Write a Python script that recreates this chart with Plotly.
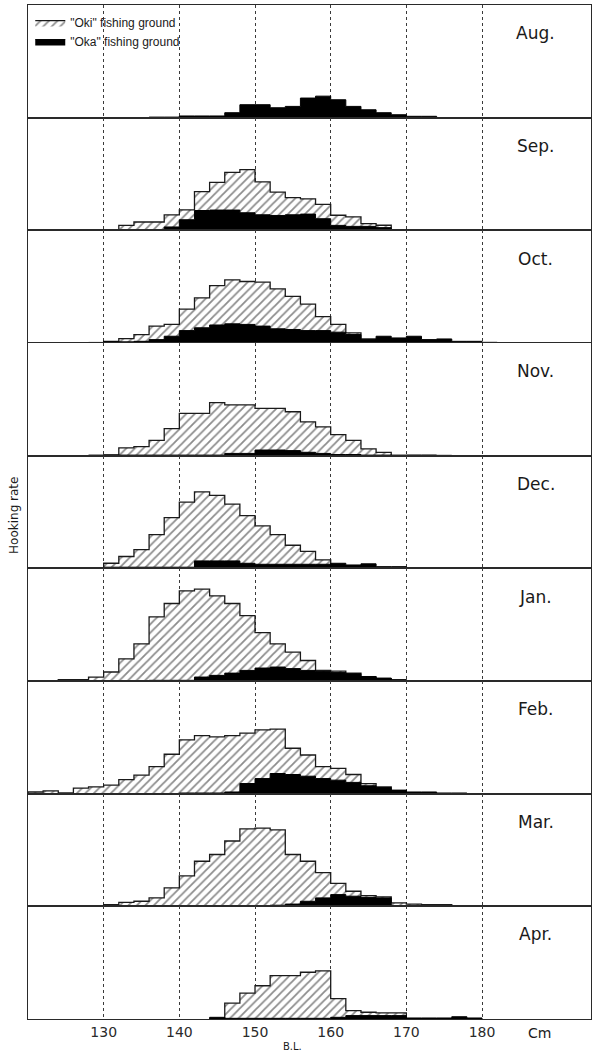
import plotly.graph_objects as go
from plotly.subplots import make_subplots

# Body-length classes (cm): 2 cm bins from 120 to 182
BIN_START = 120
BIN_WIDTH = 2
EDGES = [BIN_START + BIN_WIDTH * i for i in range(32)]

MONTHS = ["Aug.", "Sep.", "Oct.", "Nov.", "Dec.", "Jan.", "Feb.", "Mar.", "Apr."]

# Hooking rate by length class, "Oki" fishing ground
oki_aug = [0, 0, 0, 0, 0, 0, 0, 0, 0, 0, 0, 0, 0, 0, 0, 0, 0, 0, 0, 0, 0, 0, 0, 0, 0, 0, 0, 0, 0, 0, 0]
oki_sep = [0, 0, 0, 0, 0, 0, 4.4, 7.4, 7.4, 13.8, 18.2, 34.4, 42.6, 51.5, 53.8, 43, 34, 29, 28, 23, 13.4, 12, 6, 4.5, 0, 0, 0, 0, 0, 0, 0]
oki_oct = [0, 0, 0, 0, 0, 1.5, 3.9, 7.5, 15, 16.5, 30, 40, 51, 56, 54.6, 54, 48, 41.4, 34.5, 23.4, 16.5, 9, 3.6, 0, 0, 0, 0, 0, 0, 0, 0]
oki_nov = [0, 0, 0, 0, 0, 0.6, 6.9, 8.1, 13.5, 24, 37.5, 37.5, 47, 45, 45, 42, 42, 39, 30, 25.5, 18.6, 13.5, 6, 3, 0, 0, 0, 0, 0, 0, 0]
oki_dec = [0, 0, 0, 0, 0, 4.5, 10.5, 16.6, 30, 45, 58.7, 67.8, 64.8, 57, 46.7, 37.6, 30, 20.5, 15, 7.5, 0, 0, 0, 0, 0, 0, 0, 0, 0, 0, 0]
oki_jan = [0, 0, 1.2, 1.2, 3.5, 8, 19.7, 33, 57, 68.8, 80, 81.5, 75.6, 68.8, 58, 43, 33, 25.6, 18.2, 9.4, 8.8, 7, 3.5, 2, 0.6, 0, 0, 0, 0, 0, 0]
oki_feb = [1.5, 2.4, 0.6, 5, 6, 7.5, 12.5, 16.4, 24, 35, 47.8, 51.6, 50.4, 51.6, 53.7, 56.7, 57.3, 40.3, 34.3, 24, 22.4, 17, 9, 6, 3, 0, 0, 0, 0, 0, 0]
oki_mar = [0, 0, 0, 0, 0, 1.5, 3.6, 4.5, 7.5, 16.4, 27, 40, 46, 58, 68.7, 69.5, 67.8, 46, 40, 30, 20.3, 13.4, 9.5, 8.4, 3, 2, 1.5, 1.5, 0, 0, 0]
oki_apr = [0, 0, 0, 0, 0, 0, 0, 0, 0, 0, 0, 0, 0, 14, 23, 29.5, 38.5, 38.5, 41.5, 42.8, 18, 7.5, 6, 5.4, 5.4, 0, 0, 0, 0, 0, 0]

# Hooking rate by length class, "Oka" fishing ground
oka_aug = [0, 0, 0, 0, 0, 0, 0, 0, 0.5, 0.5, 1.5, 1.5, 1.5, 4.4, 11.5, 11.5, 8.8, 10, 17.4, 19.1, 15.9, 10, 7, 4.4, 2.6, 1.2, 1.2, 0, 0, 0, 0]
oka_sep = [0, 0, 0, 0, 0, 0, 0, 0, 0, 3, 9.4, 17.6, 18, 18, 15.6, 13.8, 13.2, 13.8, 14.4, 10.3, 4.4, 3.5, 3.5, 2.4, 0, 0, 0, 0, 0, 0, 0]
oka_oct = [0, 0, 0, 0, 0.5, 1, 1, 1.5, 3, 6, 11, 13.5, 16, 17, 16.5, 15, 12.6, 12, 11, 11, 9.6, 7.5, 3, 6, 4.5, 6, 3, 3.6, 1.5, 1.5, 0.6]
oka_nov = [0, 0, 0, 0, 0.5, 0.5, 0.5, 0.5, 0.5, 0.5, 0.5, 0.5, 0.5, 2, 2, 5, 5, 4.5, 3, 2, 1, 1, 0.5, 0.5, 0.5, 0.6, 0.6, 0.3, 0, 0, 0]
oka_dec = [0, 0, 0, 0.6, 0.6, 1, 1, 1, 1, 1, 1, 6.6, 6.6, 6.6, 4.5, 3.6, 3.6, 3.6, 3.6, 3.6, 4.5, 3, 4, 1.5, 1.5, 0.6, 0.6, 0, 0, 0, 0]
oka_jan = [0, 0, 0, 0, 0, 0, 0, 0, 0.6, 0.6, 0.6, 3.5, 5, 7, 9.4, 11.5, 12.4, 11, 9.4, 8.5, 7.6, 6.5, 4, 2.6, 1.2, 0, 0, 0, 0, 0, 0]
oka_feb = [0, 0, 0, 0, 0, 0, 0, 0, 0, 0, 0.6, 0.6, 0.6, 1.5, 9, 13.4, 17.9, 17, 15.5, 13.4, 12, 10, 7, 5.4, 3, 1.5, 1.5, 0.6, 0.6, 0, 0]
oka_mar = [0, 0, 0, 0, 0, 0, 0, 0, 0, 0, 0, 0, 0.5, 0.5, 0.5, 0.5, 1, 2, 4.5, 7.5, 10.4, 9, 8, 7.5, 0, 0, 0, 0, 0, 0, 0]
oka_apr = [0, 0, 0, 0, 0, 0, 0, 0, 0, 0, 0, 0, 1.5, 0.6, 0.6, 0.6, 0.6, 0.6, 0.6, 0.6, 1.5, 3, 3, 3, 3, 0.9, 0.9, 0.9, 2, 0.9, 0]

OKI = [oki_aug, oki_sep, oki_oct, oki_nov, oki_dec, oki_jan, oki_feb, oki_mar, oki_apr]
OKA = [oka_aug, oka_sep, oka_oct, oka_nov, oka_dec, oka_jan, oka_feb, oka_mar, oka_apr]

TICKS = [130, 140, 150, 160, 170, 180]
INK = "#1a1a1a"
FRAME = "#2a2a2a"


def step_outline(vals):
    """Histogram outline (for line_shape='hv') closed down to the baseline."""
    nz = [i for i, v in enumerate(vals) if v > 0]
    if not nz:
        return None, None
    a, b = nz[0], nz[-1]
    xs = [EDGES[a]] + EDGES[a:b + 1] + [EDGES[b + 1]]
    ys = [0] + list(vals[a:b + 1]) + [0]
    return xs, ys


n = len(MONTHS)
fig = make_subplots(rows=n, cols=1, shared_xaxes=True, vertical_spacing=0)

oki_in_legend = False
oka_in_legend = False
for r, (month, oki, oka) in enumerate(zip(MONTHS, OKI, OKA), start=1):
    xs, ys = step_outline(oki)
    if xs is not None:
        fig.add_trace(go.Scatter(
            x=xs, y=ys, mode="lines", line_shape="hv",
            line=dict(color=INK, width=1.3),
            fill="tozeroy", fillcolor="white",
            fillpattern=dict(shape="/", fgcolor=INK, bgcolor="white", size=6, solidity=0.3),
            name='"Oki" fishing ground', legendgroup="oki", legendrank=1,
            showlegend=not oki_in_legend, hoverinfo="skip",
        ), row=r, col=1)
        oki_in_legend = True
    xs, ys = step_outline(oka)
    if xs is not None:
        fig.add_trace(go.Scatter(
            x=xs, y=ys, mode="lines", line_shape="hv",
            line=dict(color="black", width=1),
            fill="tozeroy", fillcolor="black",
            name='"Oka" fishing ground', legendgroup="oka", legendrank=2,
            showlegend=not oka_in_legend, hoverinfo="skip",
        ), row=r, col=1)
        oka_in_legend = True

    fig.add_annotation(
        text=month, xref="paper", x=0.902,
        yref=("y" if r == 1 else f"y{r}") + " domain", y=0.75,
        showarrow=False, xanchor="center", yanchor="middle",
        font=dict(family="DejaVu Sans", size=17, color=INK),
    )

fig.update_xaxes(
    range=[120, 194.4], tickvals=TICKS, ticktext=[str(t) for t in TICKS],
    showgrid=True, gridcolor="#3a3a3a", gridwidth=1, griddash="3px,3px",
    showline=True, mirror=True, linecolor=FRAME, linewidth=1.2,
    ticks="", zeroline=False,
    tickfont=dict(family="DejaVu Sans", size=14, color="#2a2a2a"),
)
fig.update_yaxes(
    range=[0, 100], showticklabels=False, showgrid=False, zeroline=False,
    showline=True, mirror=True, linecolor=FRAME, linewidth=1.2, ticks="",
)

fig.add_annotation(text="Hooking rate", xref="paper", yref="paper",
                   x=-0.025, y=0.497, textangle=-90, showarrow=False,
                   xanchor="center", yanchor="middle",
                   font=dict(family="DejaVu Sans", size=12, color=INK))
fig.add_annotation(text="Cm", xref="paper", yref="paper", x=0.909, y=-0.0135,
                   showarrow=False, xanchor="center", yanchor="middle",
                   font=dict(family="DejaVu Sans", size=14, color=INK))
fig.add_annotation(text="B.L.", xref=f"x{n}", yref="paper", x=155, y=-0.0273,
                   showarrow=False, xanchor="center", yanchor="middle",
                   font=dict(family="DejaVu Sans", size=10, color=INK))

fig.update_layout(
    width=594, height=1051,
    margin=dict(l=28, r=3, t=5, b=32),
    paper_bgcolor="white", plot_bgcolor="white",
    showlegend=True,
    legend=dict(x=0.004, y=0.997, xanchor="left", yanchor="top",
                bgcolor="rgba(0,0,0,0)", borderwidth=0, tracegroupgap=0,
                itemwidth=30, font=dict(family="Liberation Sans", size=12, color=INK)),
)

fig.write_html("out.html")
